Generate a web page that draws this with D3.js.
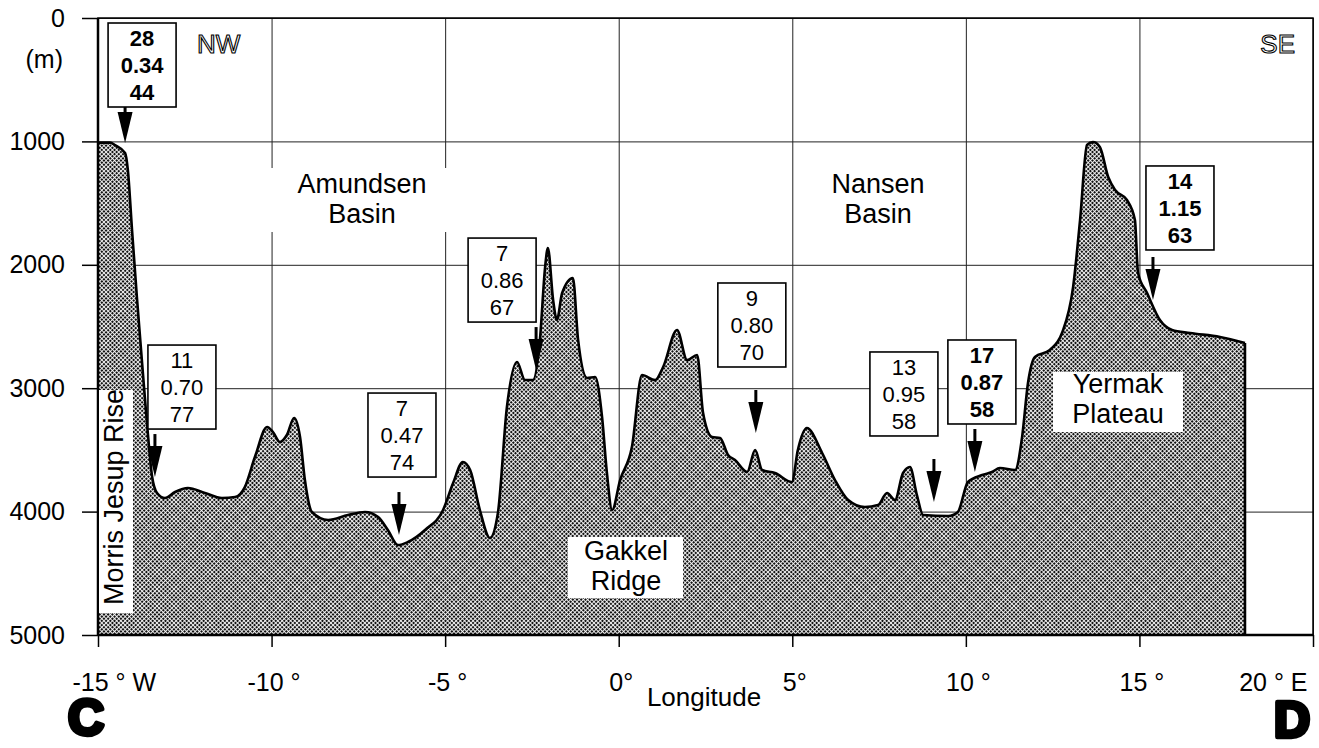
<!DOCTYPE html>
<html>
<head>
<meta charset="utf-8">
<script src="https://cdn.jsdelivr.net/npm/d3@7"></script>
<style>
  html, body { margin: 0; padding: 0; background: #fff; }
  svg { display: block; font-family: "Liberation Sans", Arial, Helvetica, sans-serif; }
</style>
</head>
<body>
<div id="vis"></div>
<script>
// profile C-D, longitude (deg) and depth (m)
const profileLon = [-15.00, -14.65, -14.51, -14.22, -14.14, -14.02, -13.88, -13.73, -13.59, -13.44,
  -13.30, -13.07, -12.78, -12.41, -11.92, -11.43, -11.05, -10.77, -10.48, -10.13,
  -9.96, -9.76, -9.56, -9.35, -9.18, -9.04, -8.84, -8.37, -7.80, -7.31,
  -6.93, -6.65, -6.36, -6.07, -5.58, -5.06, -4.77, -4.49, -4.28, -4.00,
  -3.71, -3.48, -3.22, -2.93, -2.70, -2.47, -2.27, -2.12, -2.04, -1.89,
  -1.78, -1.63, -1.32, -1.17, -0.91, -0.68, -0.48, -0.34, -0.19, 0.04,
  0.38, 0.67, 1.05, 1.28, 1.68, 1.97, 2.26, 2.43, 2.69, 2.92,
  3.15, 3.35, 3.70, 3.93, 4.13, 4.50, 4.99, 5.16, 5.42, 5.86,
  6.23, 6.61, 7.09, 7.47, 7.73, 7.96, 8.19, 8.39, 8.59, 8.77,
  9.49, 9.77, 10.06, 10.47, 10.75, 10.98, 11.42, 11.62, 11.79, 11.99,
  12.42, 12.77, 13.09, 13.29, 13.49, 13.66, 13.86, 14.10, 14.30, 14.64,
  14.87, 14.96, 15.22, 15.59, 15.94, 16.46, 17.32, 18.04];
const profileDepth = [1010, 1010, 1030, 1094, 1232, 1718, 2261, 2796, 3282, 3720,
  3849, 3890, 3841, 3809, 3849, 3890, 3882, 3801, 3558, 3315,
  3355, 3436, 3379, 3242, 3396, 3744, 4003, 4068, 4028, 4003,
  4044, 4149, 4271, 4246, 4149, 3987, 3768, 3598, 3663, 3987,
  4214, 4011, 3152, 2788, 2934, 2934, 2609, 2018, 1864, 2285,
  2447, 2229, 2107, 2609, 2917, 2909, 3233, 3687, 3987, 3744,
  3477, 2893, 2934, 2828, 2528, 2772, 2731, 3201, 3396, 3404,
  3541, 3582, 3679, 3501, 3663, 3687, 3760, 3501, 3323, 3525,
  3744, 3906, 3963, 3947, 3849, 3906, 3687, 3639, 3866, 4028,
  4036, 4003, 3760, 3704, 3679, 3647, 3663, 3396, 2958, 2747,
  2690, 2553, 2180, 1637, 1029, 1005, 1045, 1289, 1394, 1475,
  1637, 2066, 2229, 2447, 2528, 2553, 2585, 2634];

// stations marked by arrows: position of arrow tip and the three numbers in the box
const stationLon = [-14.22, -13.36, -6.33, -2.38, 3.95, 9.08, 10.26, 15.39];
const stationTip = [1013, 3720, 4190, 2853, 3363, 3922, 3679, 2285];
const stationN = ["28", "11", "7", "7", "9", "13", "17", "14"];
const stationRatio = ["0.34", "0.70", "0.47", "0.86", "0.80", "0.95", "0.87", "1.15"];
const stationPct = ["44", "77", "74", "67", "70", "58", "58", "63"];

const xTicks = [-15, -10, -5, 0, 5, 10, 15, 20];
const xTickLabels = ["-15 ° W", "-10 °", "-5 °", "0°", "5°", "10 °", "15 °", "20 ° E"];
const yTicks = [0, 1000, 2000, 3000, 4000, 5000];

// box placement relative to arrow (pixels): left offset, gap above arrow, bold text
const boxDx = [-17, -7, -31, -68, -38, -64, -27, -7];
const boxGap = [-7, 5, 15, 5, 23, 23, 5, 7];
const boxBold = [true, false, false, false, false, false, true, true];

const W = 1319, H = 748;
const x = d3.scaleLinear().domain([-15, 20]).range([98, 1313]);
const y = d3.scaleLinear().domain([0, 5000]).range([18, 635]);
const x0 = x.range()[0], x1 = x.range()[1], y0 = y.range()[0], y1 = y.range()[1];

const svg = d3.select("#vis").append("svg").attr("width", W).attr("height", H);

// halftone-like dot pattern
const pat = svg.append("defs").append("pattern")
  .attr("id", "dots").attr("patternUnits", "userSpaceOnUse")
  .attr("width", 3).attr("height", 3)
  .attr("patternTransform", "rotate(45)");
pat.append("rect").attr("width", 3).attr("height", 3).attr("fill", "#fff");
pat.append("rect").attr("width", 2.1).attr("height", 2.1).attr("fill", "#111");

// grid
svg.append("g")
  .attr("transform", `translate(0,${y1})`)
  .call(d3.axisBottom(x).tickValues(xTicks).tickSize(-(y1 - y0)).tickFormat(""))
  .call(g => g.select(".domain").remove())
  .call(g => g.selectAll("line").attr("stroke", "#222").attr("stroke-width", 1));
svg.append("g")
  .attr("transform", `translate(${x0},0)`)
  .call(d3.axisLeft(y).tickValues(yTicks).tickSize(-(x1 - x0)).tickFormat(""))
  .call(g => g.select(".domain").remove())
  .call(g => g.selectAll("line").attr("stroke", "#222").attr("stroke-width", 1));

// label backgrounds that break the grid
svg.append("rect").attr("x", 262).attr("y", 168).attr("width", 196).attr("height", 64).attr("fill", "#fff");

const pts = profileLon.map((d, i) => ({ lon: d, z: profileDepth[i] }));
const area = d3.area().curve(d3.curveMonotoneX)
  .x(d => x(d.lon)).y0(y(5000)).y1(d => y(d.z));
const line = d3.line().curve(d3.curveMonotoneX)
  .x(d => x(d.lon)).y(d => y(d.z));

svg.append("path").datum(pts).attr("d", area).attr("fill", "url(#dots)");
svg.append("path").datum(pts).attr("d", line)
  .attr("fill", "none").attr("stroke", "#000").attr("stroke-width", 2.6)
  .attr("stroke-linejoin", "round");
const last = pts[pts.length - 1];
svg.append("line")
  .attr("x1", x(last.lon)).attr("x2", x(last.lon))
  .attr("y1", y(last.z)).attr("y2", y(5000))
  .attr("stroke", "#000").attr("stroke-width", 2.6);

// frame
svg.append("rect").attr("x", x0).attr("y", y0).attr("width", x1 - x0).attr("height", y1 - y0)
  .attr("fill", "none").attr("stroke", "#000").attr("stroke-width", 1.5);
svg.append("line").attr("x1", x0).attr("x2", x1).attr("y1", y1).attr("y2", y1)
  .attr("stroke", "#000").attr("stroke-width", 2.5);
svg.append("line").attr("x1", x0).attr("x2", x0).attr("y1", y0).attr("y2", y1)
  .attr("stroke", "#000").attr("stroke-width", 2.5);

// axes
svg.append("g")
  .attr("transform", `translate(0,${y1})`)
  .call(d3.axisBottom(x).tickValues(xTicks).tickSize(12).tickPadding(26)
    .tickFormat((d, i) => xTickLabels[i]))
  .call(g => g.select(".domain").remove())
  .call(g => g.selectAll("line").attr("stroke", "#000").attr("stroke-width", 1.5))
  .call(g => g.selectAll("text").attr("font-size", 25).attr("fill", "#000")
    .attr("font-family", null).attr("dx", 2))
  .call(g => {
    const t = g.selectAll("text").nodes();
    d3.select(t[0]).attr("text-anchor", "start").attr("dx", -26);
    d3.select(t[t.length - 1]).attr("text-anchor", "end").attr("dx", -6);
  });

svg.append("g")
  .attr("transform", `translate(${x0},0)`)
  .call(d3.axisLeft(y).tickValues(yTicks).tickSize(16).tickPadding(17).tickFormat(d3.format("d")))
  .call(g => g.select(".domain").remove())
  .call(g => g.selectAll("line").attr("stroke", "#000").attr("stroke-width", 1.5))
  .call(g => g.selectAll("text").attr("font-size", 25).attr("fill", "#000").attr("font-family", null));

svg.append("text").attr("x", 63).attr("y", 68).attr("text-anchor", "end")
  .attr("font-size", 25).text("(m)");
svg.append("text").attr("x", 704).attr("y", 706).attr("text-anchor", "middle")
  .attr("font-size", 26).text("Longitude");

svg.append("text").attr("x", 68).attr("y", 735).attr("font-size", 50).attr("font-weight", "bold")
  .attr("stroke", "#000").attr("stroke-width", 4.5).attr("stroke-linejoin", "round").text("C");
svg.append("text").attr("x", 1310).attr("y", 737).attr("text-anchor", "end")
  .attr("font-size", 50).attr("font-weight", "bold")
  .attr("stroke", "#000").attr("stroke-width", 4.5).attr("stroke-linejoin", "round").text("D");

// outlined direction letters
svg.append("text").attr("x", 197).attr("y", 53).attr("font-size", 26)
  .attr("fill", "#fff").attr("stroke", "#000").attr("stroke-width", 1.1).text("NW");
svg.append("text").attr("x", 1295).attr("y", 53).attr("text-anchor", "end").attr("font-size", 26)
  .attr("fill", "#fff").attr("stroke", "#000").attr("stroke-width", 1.1).text("SE");

// region labels
function label(lines, cx, baseY, box) {
  if (box) {
    svg.append("rect").attr("x", box[0]).attr("y", box[1]).attr("width", box[2]).attr("height", box[3])
      .attr("fill", "#fff");
  }
  lines.forEach((t, i) => {
    svg.append("text").attr("x", cx).attr("y", baseY + i * 30).attr("text-anchor", "middle")
      .attr("font-size", 27).text(t);
  });
}
label(["Amundsen", "Basin"], 362, 193);
label(["Nansen", "Basin"], 878, 193);
label(["Gakkel", "Ridge"], 626, 560, [568, 537, 115, 61]);
label(["Yermak", "Plateau"], 1118, 393, [1053, 372, 130, 60]);

svg.append("rect").attr("x", x0 + 1).attr("y", 390).attr("width", 34).attr("height", 223).attr("fill", "#fff");
svg.append("text").attr("transform", "translate(123,605) rotate(-90)")
  .attr("font-size", 27).text("Morris Jesup Rise");

// station boxes with arrows
const boxW = 68, boxH = 84, arrowLen = 43, headLen = 31, headW = 15;
stationLon.forEach((lon, i) => {
  const ax = x(lon), tip = y(stationTip[i]);
  const aTop = tip - arrowLen;
  const bx = ax + boxDx[i], by = aTop - boxGap[i] - boxH;
  const g = svg.append("g");
  g.append("line").attr("x1", ax).attr("x2", ax).attr("y1", aTop).attr("y2", tip - headLen + 1)
    .attr("stroke", "#000").attr("stroke-width", 3);
  g.append("path")
    .attr("d", `M${ax - headW / 2},${tip - headLen} L${ax + headW / 2},${tip - headLen} L${ax},${tip} Z`)
    .attr("fill", "#000");
  g.append("rect").attr("x", bx).attr("y", by).attr("width", boxW).attr("height", boxH)
    .attr("fill", "#fff").attr("stroke", "#000").attr("stroke-width", 1.6);
  [stationN[i], stationRatio[i], stationPct[i]].forEach((t, k) => {
    g.append("text").attr("x", bx + boxW / 2).attr("y", by + 23 + k * 27)
      .attr("text-anchor", "middle").attr("font-size", 22)
      .attr("font-weight", boxBold[i] ? "bold" : "normal").text(t);
  });
});
</script>
</body>
</html>
